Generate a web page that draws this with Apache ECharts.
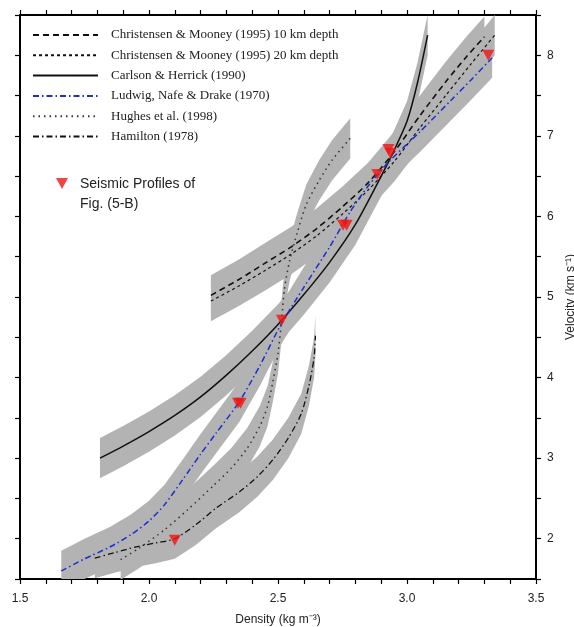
<!DOCTYPE html>
<html>
<head>
<meta charset="utf-8">
<script src="https://cdn.jsdelivr.net/npm/echarts@6/dist/echarts.min.js"></script>
<style>
  html, body { margin: 0; padding: 0; background: #fff; }
  #chart { width: 574px; height: 627px; }
</style>
</head>
<body>
<div id="chart"></div>
<script>
// density (kg m-3), velocity (km/s) pairs
const cm10 = [[2.24, 5.02], [2.35, 5.22], [2.45, 5.42], [2.55, 5.62], [2.65, 5.85], [2.75, 6.12],
  [2.85, 6.42], [2.95, 6.8], [3.05, 7.25], [3.15, 7.67], [3.23, 7.98], [3.30, 8.23]];
const cm20 = [[2.24, 4.95], [2.35, 5.14], [2.45, 5.33], [2.55, 5.53], [2.65, 5.76], [2.75, 6.03],
  [2.85, 6.33], [2.95, 6.68], [3.05, 7.1], [3.15, 7.5], [3.25, 7.9], [3.34, 8.25]];
const carlson = [[1.81, 3.0], [1.9, 3.15], [2.0, 3.33], [2.1, 3.53], [2.2, 3.76], [2.3, 4.03],
  [2.4, 4.33], [2.5, 4.66], [2.6, 5.03], [2.7, 5.43], [2.8, 5.9], [2.9, 6.5], [2.95, 6.82],
  [3.0, 7.18], [3.04, 7.65], [3.08, 8.25]];
const ludwig = [[1.66, 1.6], [1.75, 1.75], [1.85, 1.9], [1.93, 2.05], [2.0, 2.22], [2.06, 2.42],
  [2.13, 2.73], [2.2, 3.05], [2.26, 3.31], [2.35, 3.7], [2.43, 4.15], [2.51, 4.65], [2.6, 5.12],
  [2.7, 5.62], [2.78, 6.06], [2.85, 6.38], [2.93, 6.68], [3.05, 7.05], [3.17, 7.44], [3.25, 7.7],
  [3.33, 7.97]];
const hughes = [[1.89, 1.74], [1.96, 1.88], [2.06, 2.11], [2.15, 2.36], [2.25, 2.66], [2.32, 2.88],
  [2.38, 3.12], [2.43, 3.4], [2.46, 3.65], [2.48, 3.95], [2.50, 4.3], [2.515, 4.75], [2.525, 5.1],
  [2.545, 5.45], [2.575, 5.8], [2.61, 6.15], [2.66, 6.45], [2.71, 6.7], [2.78, 6.97]];
const hamilton = [[1.79, 1.76], [1.87, 1.83], [1.95, 1.9], [2.03, 1.95], [2.10, 2.0], [2.18, 2.17],
  [2.26, 2.38], [2.35, 2.58], [2.42, 2.77], [2.48, 2.98], [2.54, 3.25], [2.59, 3.55], [2.62, 3.9],
  [2.64, 4.25], [2.645, 4.52]];

const seismicDensity = [2.10, 2.345, 2.355, 2.515, 2.752, 2.766, 2.885, 2.928, 2.936, 3.315];
const seismicVelocity = [1.98, 3.68, 3.68, 4.71, 5.89, 5.89, 6.52, 6.83, 6.78, 8.0];

const names = [
  'Christensen & Mooney (1995) 10 km depth',
  'Christensen & Mooney (1995) 20 km depth',
  'Carlson & Herrick (1990)',
  'Ludwig, Nafe & Drake (1970)',
  'Hughes et al. (1998)',
  'Hamilton (1978)'
];

const BAND_HALF = 0.25;   // km/s either side of each curve
const BAND_COLOR = '#b3b3b3';

const curves = [
  { data: cm10, color: '#111', width: 1.6, type: [6, 4] },
  { data: cm20, color: '#111', width: 1.2, type: [3, 3] },
  { data: carlson, color: '#111', width: 1.5, type: 'solid' },
  { data: ludwig, color: '#1a2fd0', width: 1.5, type: [6, 3, 1.5, 3] },
  { data: hughes, color: '#333', width: 1.5, type: [1.5, 4] },
  { data: hamilton, color: '#111', width: 1.3, type: [6, 3, 1.5, 3] }
];

function bandRenderer(curve) {
  return function (params, api) {
    if (params.dataIndex !== 0) return;
    const upper = curve.map(p => api.coord([p[0], p[1] + BAND_HALF]));
    const lower = curve.slice().reverse().map(p => api.coord([p[0], p[1] - BAND_HALF]));
    return {
      type: 'polygon',
      shape: { points: upper.concat(lower) },
      style: { fill: BAND_COLOR, stroke: null }
    };
  };
}

let series = [];
curves.forEach((c) => {
  series.push({
    type: 'custom',
    renderItem: bandRenderer(c.data),
    data: [c.data[0]],
    clip: true,
    silent: true,
    z: 1
  });
});
curves.forEach((c, i) => {
  series.push({
    name: names[i],
    type: 'line',
    data: c.data,
    symbol: 'none',
    smooth: 0.25,
    clip: true,
    lineStyle: { color: c.color, width: c.width, type: c.type },
    itemStyle: { color: c.color },
    z: 3
  });
});
series.push({
  name: 'Seismic',
  type: 'scatter',
  data: seismicDensity.map((d, i) => [d, seismicVelocity[i]]),
  symbol: 'triangle',
  symbolRotate: 180,
  symbolSize: [12, 11],
  itemStyle: { color: '#f01414' },
  z: 5
});

const axisLine = { show: true, onZero: false, lineStyle: { color: '#000', width: 2 } };
const tickStyle = { color: '#000', width: 1.2 };
const labelFont = { fontFamily: 'Liberation Sans', fontSize: 12, color: '#222' };

let chartDom = document.getElementById('chart');
let chart = echarts.init(chartDom, null, { renderer: 'canvas' });
let option = {
  animation: false,
  grid: { left: 20, right: 38, top: 15, bottom: 48, containLabel: false, outerBoundsMode: 'none' },
  legend: [
    {
      data: names,
      orient: 'vertical',
      left: 32,
      top: 28,
      padding: 0,
      itemWidth: 65,
      itemHeight: 14,
      itemGap: 6.3,
      selectedMode: false,
      itemStyle: { opacity: 0 },
      textStyle: { fontFamily: 'Liberation Serif', fontSize: 13, color: '#222', lineHeight: 14, padding: [0, 0, 0, 8] }
    },
    {
      data: [{ name: 'Seismic', icon: 'path://M0,0L12,0L6,11Z' }],
      left: 56,
      top: 178,
      padding: 0,
      itemWidth: 12,
      itemHeight: 11,
      selectedMode: false,
      formatter: () => ''
    }
  ],
  graphic: [
    {
      type: 'text',
      left: 80,
      top: 174,
      style: {
        text: 'Seismic Profiles of\nFig. (5-B)',
        align: 'center',
        font: '14px "Liberation Sans", Arial, sans-serif',
        lineHeight: 20,
        fill: '#222'
      }
    }
  ],
  xAxis: [
    {
      type: 'value',
      position: 'bottom',
      min: 1.5,
      max: 3.5,
      interval: 0.5,
      name: 'Density (kg m⁻³)',
      nameLocation: 'middle',
      nameGap: 35,
      nameTextStyle: labelFont,
      axisLine: axisLine,
      axisTick: { show: true, length: 5, lineStyle: tickStyle },
      minorTick: { show: true, splitNumber: 5, length: 5, lineStyle: tickStyle },
      splitLine: { show: false },
      axisLabel: Object.assign({ margin: 14, formatter: v => v.toFixed(1) }, labelFont)
    },
    {
      type: 'value',
      position: 'top',
      min: 1.5,
      max: 3.5,
      interval: 0.5,
      axisLine: axisLine,
      axisTick: { show: true, length: 5, lineStyle: tickStyle },
      minorTick: { show: true, splitNumber: 5, length: 5, lineStyle: tickStyle },
      splitLine: { show: false },
      axisLabel: { show: false }
    }
  ],
  yAxis: [
    {
      type: 'value',
      position: 'right',
      min: 1.5,
      max: 8.5,
      interval: 0.5,
      name: 'Velocity (km s⁻¹)',
      nameLocation: 'middle',
      nameRotate: 90,
      nameGap: 27,
      nameTextStyle: labelFont,
      axisLine: axisLine,
      axisTick: { show: true, length: 5, lineStyle: tickStyle },
      splitLine: { show: false },
      axisLabel: Object.assign({
        margin: 11,
        formatter: v => (Math.abs(v - Math.round(v)) < 1e-6 ? String(Math.round(v)) : '')
      }, labelFont)
    },
    {
      type: 'value',
      position: 'left',
      min: 1.5,
      max: 8.5,
      interval: 0.5,
      axisLine: axisLine,
      axisTick: { show: true, length: 5, lineStyle: tickStyle },
      splitLine: { show: false },
      axisLabel: { show: false }
    }
  ],
  series: series
};

option && chart.setOption(option);
</script>
</body>
</html>
